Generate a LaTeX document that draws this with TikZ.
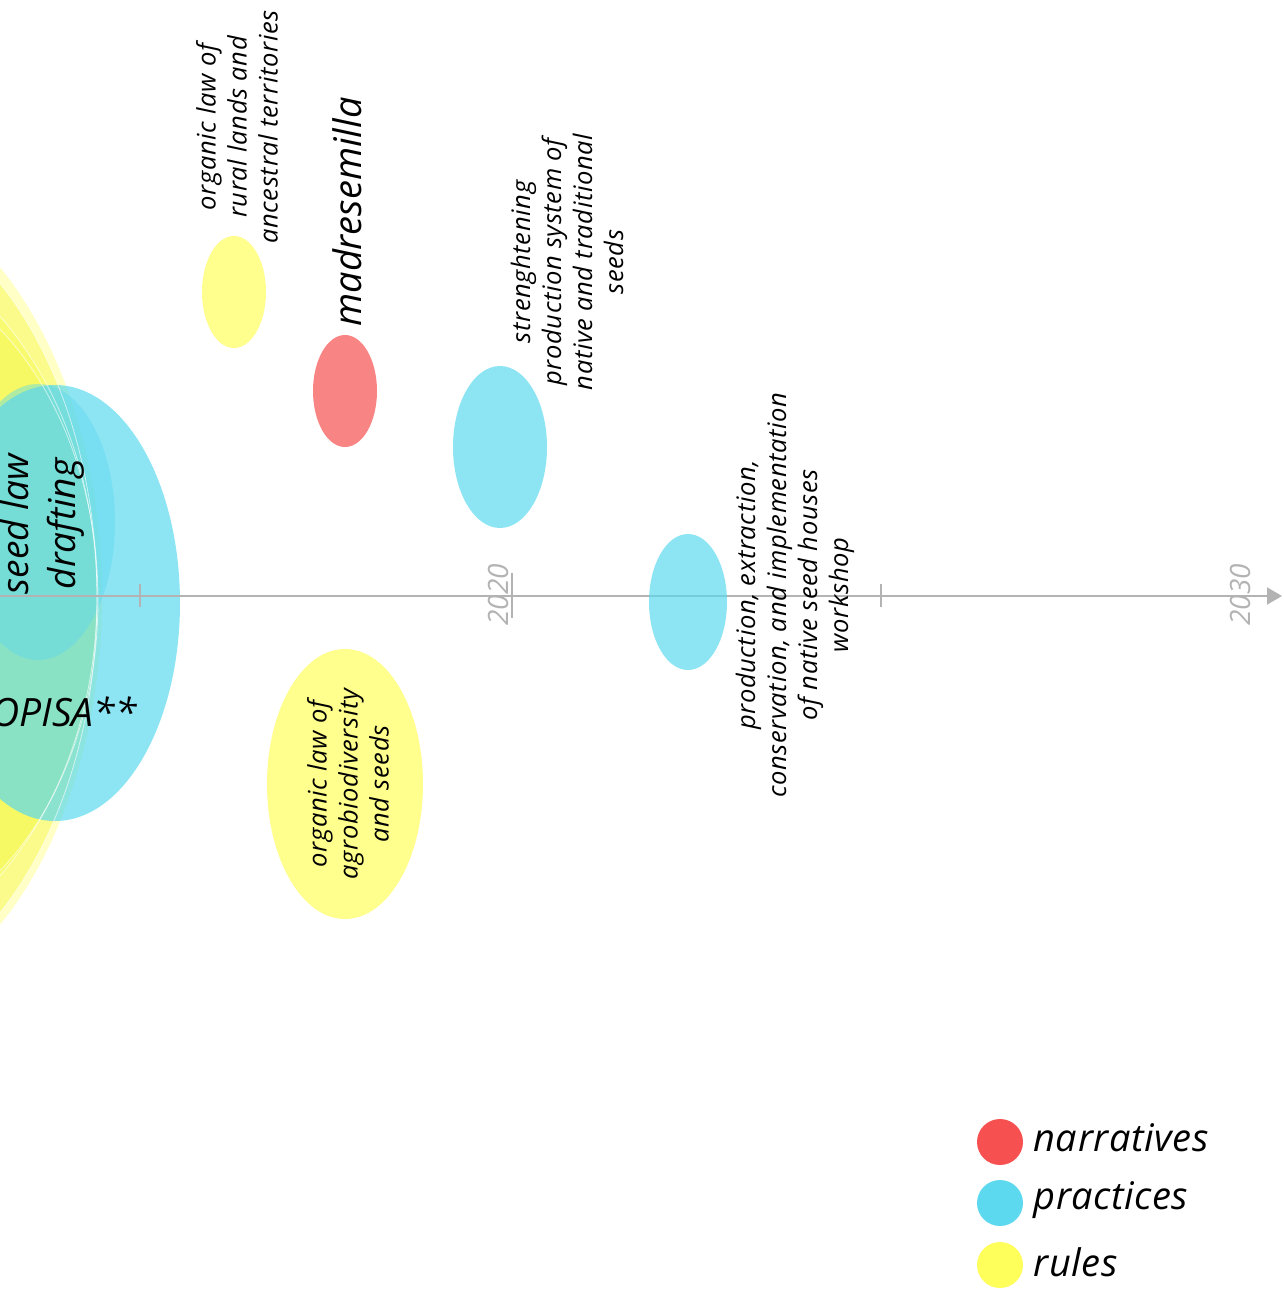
\documentclass[tikz,border=0pt]{standalone}
\usepackage{fontspec}
\setmainfont{Open Sans}
\usetikzlibrary{arrows.meta}
\definecolor{narr}{HTML}{F75050}
\definecolor{prac}{HTML}{5CD9EE}
\definecolor{rulec}{HTML}{FFFF5C}
\definecolor{bigyel}{HTML}{F2F75A}
\definecolor{axisgray}{HTML}{B3B3B3}
\begin{document}
\begin{tikzpicture}[x=1pt,y=-1pt,
  axisline/.style={draw=axisgray,line width=2pt},
  yearlbl/.style={rotate=90,text=axisgray,font=\fontsize{28}{30}\selectfont\itshape},
  smalltxt/.style={rotate=90,align=center,font=\fontsize{25.5}{31}\selectfont\itshape\addfontfeatures{LetterSpace=2.5}},
  bigtxt/.style={font=\fontsize{37}{47}\selectfont\itshape},
  legtxt/.style={anchor=west,font=\fontsize{38}{40}\selectfont\itshape\addfontfeatures{LetterSpace=1.5}},
  blobP/.style={fill=prac,fill opacity=0.7},
  blobN/.style={fill=narr,fill opacity=0.7},
  blobR/.style={fill=rulec,fill opacity=0.7},
  bigR/.style={fill=bigyel,fill opacity=0.55},
  rimR/.style={draw=white,line width=0.8pt,draw opacity=0.6}
]
\useasboundingbox (0,0) rectangle (1283,1291);
\clip (0,0) rectangle (1283,1291);

% big yellow cluster
\fill[bigR] (-165,598) ellipse (262 and 405);
\fill[bigR] (-150,600) ellipse (248 and 340);
\fill[bigR] (-175,596) ellipse (272 and 365);
\fill[fill=rulec,fill opacity=0.35] (-160,596) ellipse (262 and 415);

% practices cluster on left
\fill[blobP] (55,603) ellipse (125 and 218);
\fill[fill=prac,fill opacity=0.45] (38,522) ellipse (77 and 138);

% white rims of the yellow cluster
\draw[rimR] (-165,598) ellipse (262 and 405);
\draw[rimR] (-150,600) ellipse (248 and 340);
\draw[rimR] (-175,596) ellipse (272 and 365);

% axis
\coordinate (axL) at (0,596);
\coordinate (axR) at (1282,596);
\draw[axisline,-{Triangle[length=15pt,width=17pt]}] (axL) -- (axR);
\coordinate (t1a) at (140,584); \coordinate (t1b) at (140,607);
\coordinate (t2a) at (512,573); \coordinate (t2b) at (512,618);
\coordinate (t3a) at (881,584); \coordinate (t3b) at (881,607);
\draw[axisline] (t1a) -- (t1b);
\draw[axisline] (t2a) -- (t2b);
\draw[axisline] (t3a) -- (t3b);
\node[yearlbl] (y2020) at (498,595) {2020};
\node[yearlbl] (y2030) at (1240,595) {2030};

% small blobs
\fill[blobR] (234,292) ellipse (32 and 56);
\fill[blobN] (345,391) ellipse (32 and 56);
\fill[blobP] (500,447) ellipse (47 and 81);
\fill[blobP] (688,602) ellipse (39 and 68);
\fill[blobR] (345,784) ellipse (78 and 135);

% texts
\node[bigtxt,rotate=90,align=center] (seedlaw) at (42,524) {seed law\\drafting};
\node[bigtxt,anchor=east,font=\fontsize{39}{47}\selectfont\itshape] (opisa) at (140,712) {OPISA**};
\node[rotate=90,font=\fontsize{38}{40}\selectfont\itshape] (madre) at (347,212) {madresemilla};
\node[smalltxt] (organic1) at (237,127) {organic law of\\rural lands and\\ancestral territories};
\node[smalltxt] (streng) at (567,262) {strenghtening\\production system of\\native and traditional\\seeds};
\node[smalltxt] (prodx) at (795,595) {production, extraction,\\conservation, and implementation\\of native seed houses\\workshop};
\node[smalltxt] (organic2) at (348,784) {organic law of\\agrobiodiversity\\and seeds};

% legend
\fill[narr] (1000,1142) circle (23);
\fill[prac] (1000,1203) circle (23);
\fill[rulec] (1000,1265) circle (23);
\node[legtxt] (lnarr) at (1030,1138) {narratives};
\node[legtxt] (lprac) at (1030,1200) {practices};
\node[legtxt] (lrule) at (1030,1262) {rules};
\end{tikzpicture}
\end{document}
